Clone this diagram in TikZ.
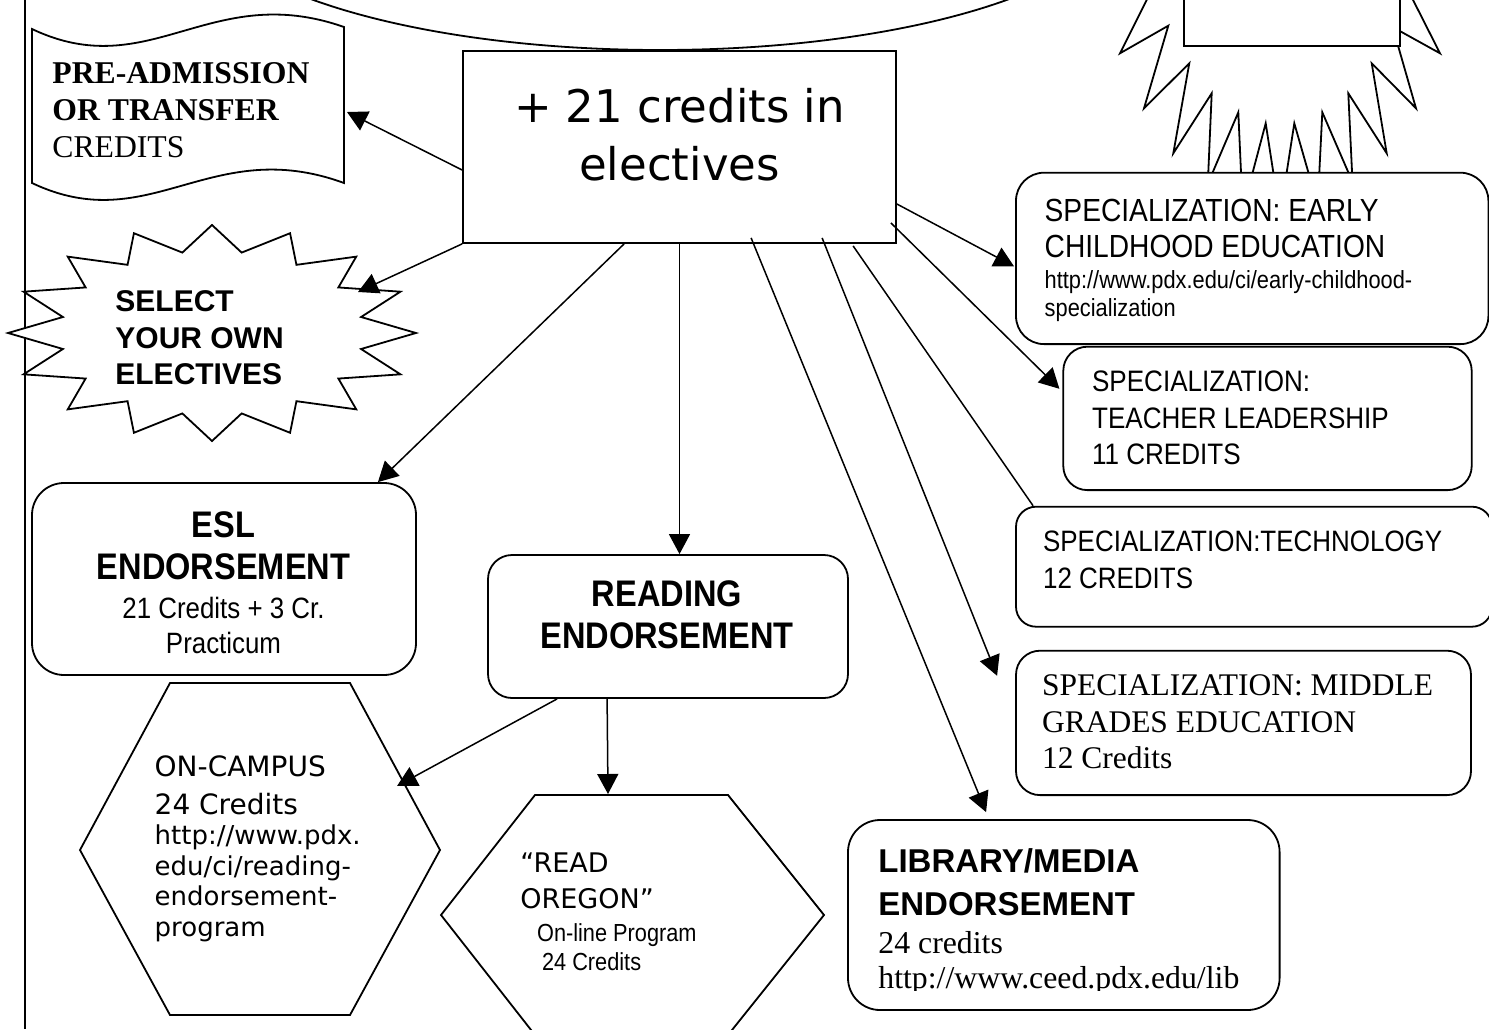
\documentclass[tikz,border=0pt]{standalone}
\usepackage{fontspec}
\usepackage{tikz}
\usetikzlibrary{calc,arrows.meta}
\newfontfamily\hum{DejaVu Sans}
\newfontfamily\cond[FakeStretch=0.88]{Liberation Sans}
\newfontfamily\ari{Liberation Sans}
\newfontfamily\tms{Liberation Serif}
\newcommand\fsz[2]{\fontsize{#1}{#2}\selectfont}

\begin{document}
\begin{tikzpicture}
  [x=0.5pt,y=-0.5pt,
   boxN/.style={draw,line width=0.9pt,fill=white,inner sep=0pt},
   textN/.style={inner sep=0pt,align=left,anchor=north west},
   shapeN/.style={draw,line width=0.9pt,fill=white},
   arrowE/.style={line width=0.75pt,-{Triangle[length=10pt,width=10.5pt]}}]

  \useasboundingbox (0,0) rectangle (1489,1029);
  \fill[white] (0,0) rectangle (1489,1029);
  \clip (0,0) rectangle (1489,1029);

  \draw[line width=1pt] (25,0) -- (25,1029);
  \draw[line width=0.9pt] (660,-100) ellipse [x radius=465,y radius=150];

  % shapes drawn directly
  \path[shapeN] (32,29) .. controls (150,85) and (210,-20) .. (344,27)
    -- (344,183) .. controls (210,134) and (150,239) .. (32,183) -- cycle;
  \path[shapeN] plot[variable=\k,samples at={0,...,31}]
    ({212+(isodd(\k)?152:204)*cos(\k*11.25)},{333-(isodd(\k)?82:108)*sin(\k*11.25)}) -- cycle;
  \path[shapeN] (1151.7,-10) -- (1120,53.3) -- (1168.3,25.7) -- (1144,108.3)
    -- (1189.3,63.3) -- (1173.3,153.3) -- (1211.7,93.3) -- (1207.8,183.8)
    -- (1238.3,112.3) -- (1242.7,210) -- (1265.7,123.3) -- (1280,215.6)
    -- (1294.3,123.3) -- (1317.7,205) -- (1322.3,112.3) -- (1352.5,182)
    -- (1348.3,93.3) -- (1386.7,153.3) -- (1371.7,63.3) -- (1416,108.3)
    -- (1392.7,27.1) -- (1440,53.3) -- (1408,-10) -- (1408,-60) -- (1151.7,-60) -- cycle;
  \path[shapeN] (1184,-20) rectangle (1400,45.7);
  \path[shapeN] (170,683) -- (350,683) -- (440,850) -- (350,1015) -- (170,1015) -- (80,850) -- cycle;
  \path[shapeN] (535,795) -- (728,795) -- (824,915) -- (728,1035) -- (535,1035) -- (441,915) -- cycle;

  \coordinate (preE) at (347,112);
  \coordinate (selE) at (358,292);
  \coordinate (oncampE) at (397,786);
  \coordinate (readorE) at (608,794);

  % boxes
  \node[boxN,minimum width=216.5pt,minimum height=96pt] (elect) at (679.5,147) {};
  \node[boxN,rounded corners=16pt,minimum width=192pt,minimum height=96pt] (esl) at (224,579) {};
  \node[boxN,rounded corners=12pt,minimum width=180pt,minimum height=71.5pt] (read) at (668,626.5) {};
  \node[boxN,rounded corners=14pt,minimum width=236.2pt,minimum height=85.7pt] (erly) at (1252.2,258.4) {};
  \node[boxN,rounded corners=12pt,minimum width=204.2pt,minimum height=71.7pt] (teach) at (1267.5,418.4) {};
  \node[boxN,rounded corners=10pt,minimum width=238pt,minimum height=60pt] (tech) at (1254,566.7) {};
  \node[boxN,rounded corners=12pt,minimum width=227.5pt,minimum height=72.2pt] (mid) at (1243.5,722.9) {};
  \node[boxN,rounded corners=16pt,minimum width=215.8pt,minimum height=95pt] (lib) at (1063.8,915) {};

  % texts
  \node[textN,anchor=north,align=center,font={\hum\fsz{22.5}{29}}] (electT) at (679.5,87.8)
    {+ 21 credits in\\electives};
  \node[textN,font={\tms\fsz{15.85}{18.35}}] (preT) at (52,62.3)
    {\textbf{PRE-ADMISSION}\\\textbf{OR TRANSFER}\\CREDITS};
  \node[textN,font={\ari\bfseries\fsz{15}{18.25}}] (selT) at (115,290.2)
    {SELECT\\YOUR OWN\\ELECTIVES};
  \node[textN,anchor=north,align=center,font={\cond\fsz{14.7}{17.5}}] (eslT) at (223.5,510.8)
    {{\bfseries\fsz{18.5}{21.2}ESL}\\[3.7pt]{\bfseries\fsz{18.5}{21.2}ENDORSEMENT}\\[2.15pt]21 Credits + 3 Cr.\\Practicum};
  \node[textN,anchor=north,align=center,font={\cond\bfseries\fsz{18.5}{21.15}}] (readT) at (667,580.2)
    {READING\\ENDORSEMENT};
  \node[textN,font={\hum\fsz{13}{15.2}}] (oncampT) at (154.3,755.3)
    {{\fsz{14}{15.2}ON-CAMPUS}\\[3.85pt]{\fsz{14}{15.2}24 Credits}\\http://www.pdx.\\edu/ci/reading-\\endorsement-\\program};
  \node[textN,font={\cond\fsz{12.35}{14.65}}] (readorT) at (520,852)
    {{\hum\fsz{13.5}{14.65}“READ}\\[3.65pt]{\hum\fsz{13.5}{14.65}OREGON”}\\[1.55pt]\hspace*{8.35pt}On-line Program\\\hspace*{10.85pt}24 Credits};
  \node[textN,font={\cond\fsz{12.4}{14.2}}] (erlyT) at (1044.3,198.8)
    {{\fsz{16}{14.2}SPECIALIZATION: EARLY}\\[3.6pt]{\fsz{16}{14.2}CHILDHOOD EDUCATION}\\[1.3pt]http://www.pdx.edu/ci/early-childhood-\\specialization};
  \node[textN,font={\cond\fsz{14.8}{18.35}}] (teachT) at (1091.7,370.5)
    {SPECIALIZATION:\\TEACHER LEADERSHIP\\11 CREDITS};
  \node[textN,font={\cond\fsz{14.75}{18.3}}] (techT) at (1042.7,530.6)
    {SPECIALIZATION:TECHNOLOGY\\12 CREDITS};
  \node[textN,font={\tms\fsz{15.75}{18.33}}] (midT) at (1041.6,674.1)
    {SPECIALIZATION: MIDDLE\\GRADES EDUCATION\\12 Credits};
  \begin{scope}
    \clip (lib.north west) rectangle ($(lib.east)+(0,75)$);
    \node[textN,font={\tms\fsz{15.9}{17.5}}] (libT) at (878,847.7)
      {{\ari\bfseries\fsz{16.5}{17.5}LIBRARY/MEDIA}\\[4.15pt]{\ari\bfseries\fsz{16.5}{17.5}ENDORSEMENT}\\[1.65pt]24 credits\\http://www.ceed.pdx.edu/lib};
  \end{scope}

  % connectors
  \draw[arrowE] ($(elect.west)+(0,23)$) -- (preE);
  \draw[arrowE] (elect.south west) -- (selE);
  \draw[arrowE] ($(elect.south west)+(162,0)$) -- ($(esl.north east)+(-39,0)$);
  \draw[arrowE] (elect.south) -- (elect.south |- read.north);
  \draw[arrowE] ($(elect.south west)+(289,-6)$) -- ($(lib.north west)+(139,-7)$);
  \draw[arrowE] ($(elect.south west)+(360,-6)$) -- ($(mid.north west)+(-18,26)$);
  \draw[line width=0.75pt] ($(elect.south west)+(391,2)$) -- ($(tech.north west)+(18,0)$);
  \draw[arrowE] ($(elect.south east)+(-6,-21)$) -- ($(teach.north west)+(-3,43)$);
  \draw[arrowE] ($(elect.east)+(0,57)$) -- ($(erly.west)+(-1,8)$);
  \draw[arrowE] ($(read.south west)+(120,0)$) -- (readorE);
  \draw[arrowE] ($(read.south west)+(70,0)$) -- (oncampE);
\end{tikzpicture}
\end{document}
